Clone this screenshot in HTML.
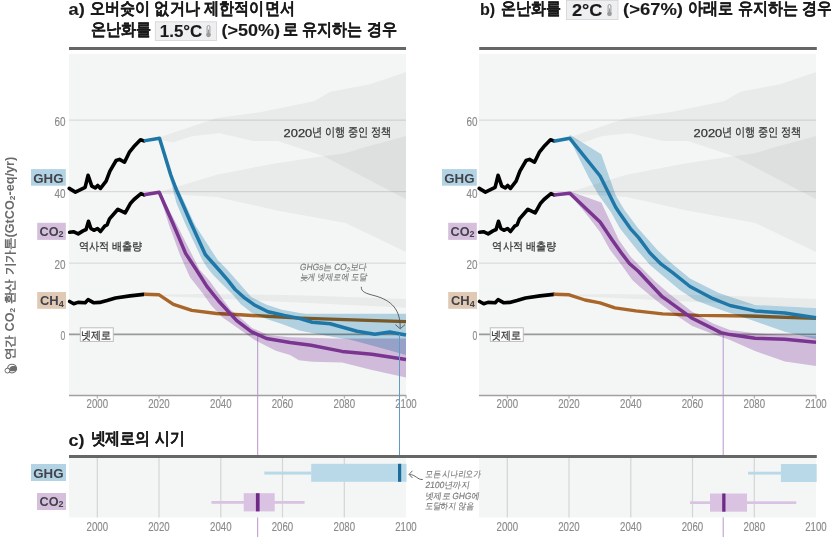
<!DOCTYPE html>
<html><head><meta charset="utf-8"><style>
html,body{margin:0;padding:0;background:#fff;width:831px;height:537px;overflow:hidden}
svg{display:block}
text{font-family:"Liberation Sans",sans-serif}
.title{font-size:16px;font-weight:bold;fill:#1a1a1a;stroke:#1a1a1a;stroke-width:0.12}
.tick{font-size:12px;fill:#8a8a8a;stroke:#8a8a8a;stroke-width:0.15}
.lab{font-size:13.5px;font-weight:bold;fill:#42424a}
.kr{font-size:11px;fill:#333;stroke:#333;stroke-width:0.25}
.kr2{font-size:11.5px;fill:#333;stroke:#333;stroke-width:0.25}
.ann{font-size:9px;fill:#7a7a7a;stroke:#7a7a7a;stroke-width:0.15}
.ylab{font-size:12px;font-weight:bold;fill:#6a6a6a}
</style></head><body>
<svg width="831" height="537" viewBox="0 0 831 537">
<text x="68.6" y="14.8" class="title" textLength="16.2" lengthAdjust="spacingAndGlyphs">a)</text>
<text x="89.8" y="13.7" class="title" textLength="205" lengthAdjust="spacingAndGlyphs"><tspan font-size="16.8">오버슛이 없거나 제한적이면서</tspan></text>
<text x="90.5" y="35.1" class="title" textLength="60.5" lengthAdjust="spacingAndGlyphs"><tspan font-size="16.8">온난화를</tspan></text>
<rect x="155.3" y="21.8" width="61.3" height="18.6" fill="#eeeff0" stroke="#d3d3d3" stroke-width="0.8"/>
<text x="159.8" y="37.2" class="title" textLength="42.5" lengthAdjust="spacingAndGlyphs">1.5°C</text>
<g transform="translate(205.5,25.5)"><rect x="1.6" y="0" width="2.8" height="8.2" rx="1.4" fill="none" stroke="#9a9a9a" stroke-width="1"/><rect x="2.5" y="4" width="1" height="5" fill="#9a9a9a"/><circle cx="3" cy="9.3" r="2.4" fill="#9a9a9a"/></g>
<text x="221.6" y="36.2" class="title" textLength="58.5" lengthAdjust="spacingAndGlyphs">(&gt;50%)</text>
<text x="282.8" y="35.1" class="title" textLength="114" lengthAdjust="spacingAndGlyphs"><tspan font-size="16.8">로 유지하는 경우</tspan></text>
<text x="480" y="14.8" class="title" textLength="15.2" lengthAdjust="spacingAndGlyphs">b)</text>
<text x="501.4" y="13.7" class="title" textLength="60" lengthAdjust="spacingAndGlyphs"><tspan font-size="16.8">온난화를</tspan></text>
<rect x="566.5" y="0.5" width="51.5" height="19" fill="#eeeff0" stroke="#d3d3d3" stroke-width="0.8"/>
<text x="572" y="15.6" class="title" textLength="30.5" lengthAdjust="spacingAndGlyphs">2°C</text>
<g transform="translate(606.5,4.5)"><rect x="1.6" y="0" width="2.8" height="8.2" rx="1.4" fill="none" stroke="#9a9a9a" stroke-width="1"/><rect x="2.5" y="4" width="1" height="5" fill="#9a9a9a"/><circle cx="3" cy="9.3" r="2.4" fill="#9a9a9a"/></g>
<text x="623" y="14.8" class="title" textLength="60" lengthAdjust="spacingAndGlyphs">(&gt;67%)</text>
<text x="688.3" y="13.7" class="title" textLength="144" lengthAdjust="spacingAndGlyphs"><tspan font-size="16.8">아래로 유지하는 경우</tspan></text>
<rect x="69" y="47" width="337" height="3" fill="#666"/>
<rect x="479.2" y="47" width="337.6" height="3" fill="#666"/>
<rect x="69" y="54" width="337" height="341.3" fill="#f4f6f6"/>
<line x1="69" y1="120.2" x2="406" y2="120.2" stroke="#dadada" stroke-width="1.2"/>
<line x1="69" y1="191.6" x2="406" y2="191.6" stroke="#dadada" stroke-width="1.2"/>
<line x1="69" y1="263.1" x2="406" y2="263.1" stroke="#dadada" stroke-width="1.2"/>
<g transform="translate(0,0)" fill="#000" fill-opacity="0.045"><polygon points="158.0,137.8 185.7,128.6 216.4,117.9 262.4,111.8 314.6,101.0 330.0,91.8 369.8,84.2 406.0,71.9 406.0,199.2 323.8,156.3 277.7,140.9 253.2,140.9 219.4,133.2 191.8,136.3 173.4,142.5 158.0,139.4"/><polygon points="161.0,191.5 216.4,174.7 271.6,163.9 320.7,156.5 344.9,153.3 363.6,147.5 406.0,136.0 406.0,252.1 345.2,223.0 277.7,210.7 216.4,196.9 161.0,193.8"/><polygon points="159.0,294.5 200.0,293.9 301.0,295.2 406.0,299.0 406.0,307.8 275.8,301.5 200.0,297.7 159.0,296.0"/></g>
<line x1="69" y1="334.4" x2="406" y2="334.4" stroke="#9a9a9a" stroke-width="1.6"/>
<line x1="69" y1="395.5" x2="406" y2="395.5" stroke="#a0a0a0" stroke-width="1.3"/>
<line x1="97.3" y1="395" x2="97.3" y2="398.5" stroke="#a0a0a0" stroke-width="1"/>
<text x="97.3" y="408.4" class="tick" text-anchor="middle" textLength="21.5" lengthAdjust="spacingAndGlyphs">2000</text>
<line x1="159.0" y1="395" x2="159.0" y2="398.5" stroke="#a0a0a0" stroke-width="1"/>
<text x="159.0" y="408.4" class="tick" text-anchor="middle" textLength="21.5" lengthAdjust="spacingAndGlyphs">2020</text>
<line x1="220.8" y1="395" x2="220.8" y2="398.5" stroke="#a0a0a0" stroke-width="1"/>
<text x="220.8" y="408.4" class="tick" text-anchor="middle" textLength="21.5" lengthAdjust="spacingAndGlyphs">2040</text>
<line x1="282.5" y1="395" x2="282.5" y2="398.5" stroke="#a0a0a0" stroke-width="1"/>
<text x="282.5" y="408.4" class="tick" text-anchor="middle" textLength="21.5" lengthAdjust="spacingAndGlyphs">2060</text>
<line x1="344.3" y1="395" x2="344.3" y2="398.5" stroke="#a0a0a0" stroke-width="1"/>
<text x="344.3" y="408.4" class="tick" text-anchor="middle" textLength="21.5" lengthAdjust="spacingAndGlyphs">2080</text>
<line x1="406.0" y1="395" x2="406.0" y2="398.5" stroke="#a0a0a0" stroke-width="1"/>
<text x="406.0" y="408.4" class="tick" text-anchor="middle" textLength="21.5" lengthAdjust="spacingAndGlyphs">2100</text>
<text x="65.4" y="126.1" class="tick" text-anchor="end" textLength="11" lengthAdjust="spacingAndGlyphs">60</text>
<text x="65.4" y="197.5" class="tick" text-anchor="end" textLength="11" lengthAdjust="spacingAndGlyphs">40</text>
<text x="65.4" y="269.0" class="tick" text-anchor="end" textLength="11" lengthAdjust="spacingAndGlyphs">20</text>
<text x="65.4" y="340.4" class="tick" text-anchor="end" textLength="4.8" lengthAdjust="spacingAndGlyphs">0</text>
<line x1="257.7" y1="334.4" x2="257.7" y2="537" stroke="#b995cc" stroke-width="1"/>
<g fill="none" stroke="#000" stroke-width="3.6" stroke-linejoin="round" stroke-linecap="round"><polyline points="69.2,188.4 75.4,192.1 85.1,187.4 88.1,175.3 91.8,186.2 95.2,187.9 97.7,185.4 100.5,188.4 106.1,181.2 109.9,171.1 116.1,160.5 119.5,159.4 124.5,162.2 129.6,151.8 133.7,146.8 140.5,139.8 143.8,140.9"/><polyline points="69.6,232.3 73.4,231.7 78.2,233.9 83.0,230.9 86.1,229.5 88.5,221.3 90.9,228.5 93.9,230.3 97.5,228.5 100.5,231.5 104.7,226.1 107.1,224.9 109.5,218.9 117.9,209.3 125.2,212.9 130.6,203.2 134.0,199.5 141.0,193.6 144.0,194.8"/><polyline points="69.6,301.5 73.7,303.8 78.0,302.4 85.2,302.8 88.1,299.6 93.9,302.8 99.7,302.4 107.0,300.5 115.5,298.0 130.0,295.9 143.7,294.4"/></g>
<polyline points="144.0,294.3 159.2,294.8 173.4,304.3 191.8,310.4 216.4,313.5 240.0,314.8 300.0,318.1 406.0,321.6" fill="none" stroke="#a8662a" stroke-width="3.4" stroke-linejoin="round"/>
<g style="mix-blend-mode:multiply"><polygon points="159.5,136.8 165.0,158.0 172.0,177.0 179.2,190.8 195.1,225.0 217.7,260.0 226.1,268.4 237.3,281.0 251.2,297.1 266.1,304.6 281.9,309.7 300.0,313.0 306.0,313.7 406.0,313.7 406.0,355.1 371.9,345.4 349.6,339.5 334.7,337.2 300.0,330.7 281.9,324.1 268.0,319.5 252.1,313.0 240.5,304.0 233.3,295.2 213.1,275.0 207.5,268.0 202.3,260.0 185.8,225.0 176.4,203.0 171.8,185.0 165.0,162.0 159.5,139.8" fill="#b9d9e9" style="mix-blend-mode:multiply"/><polygon points="159.2,190.8 177.0,225.0 199.5,269.5 209.3,280.5 221.4,297.3 230.8,310.0 240.0,317.6 252.1,327.9 268.0,335.0 290.0,337.2 334.7,338.4 406.0,338.4 406.0,377.4 371.9,370.0 342.1,362.5 312.3,361.8 298.9,360.3 290.0,355.1 275.8,350.8 254.6,340.0 244.1,332.5 222.0,317.0 210.9,305.0 203.0,293.8 190.0,277.2 180.0,255.0 169.0,225.0 159.2,193.8" fill="#dac3e2" style="mix-blend-mode:multiply"/></g>
<polyline points="143.8,140.9 159.5,138.2 170.8,175.0 176.4,189.9 183.0,204.8 190.9,223.0 205.3,254.5 218.6,269.5 228.0,280.3 235.4,289.8 243.8,297.3 254.0,304.7 268.0,311.7 284.3,315.4 299.2,318.4 312.3,322.3 330.2,323.8 357.0,331.3 374.9,334.2 389.8,332.0 406.0,335.0" fill="none" stroke="#1f77a8" stroke-width="3.5" stroke-linejoin="round"/>
<polyline points="144.0,194.8 159.2,192.2 173.6,225.0 185.7,253.6 196.5,270.0 206.9,286.4 218.6,301.0 236.7,320.6 251.6,331.8 266.5,338.5 290.0,342.4 311.0,345.2 342.1,351.4 371.9,354.3 406.0,359.6" fill="none" stroke="#7a3590" stroke-width="3.5" stroke-linejoin="round"/>
<rect x="31" y="169.1" width="34.8" height="16.6" fill="#b2d3e3"/>
<text x="33.2" y="182.5" class="lab" textLength="30.3" lengthAdjust="spacingAndGlyphs">GHG</text>
<rect x="37.2" y="222.8" width="28.6" height="17.1" fill="#d6bfdd"/>
<text x="39.5" y="235.6" class="lab" textLength="24" lengthAdjust="spacingAndGlyphs">CO<tspan font-size="9.5" dy="1.8">2</tspan></text>
<rect x="37.2" y="292" width="28.8" height="16.8" fill="#e0cab5"/>
<text x="40" y="305.1" class="lab" textLength="23.8" lengthAdjust="spacingAndGlyphs">CH<tspan font-size="9.5" dy="1.8">4</tspan></text>
<rect x="80.3" y="327.8" width="33" height="13.6" fill="#fff" stroke="#bdbdbd" stroke-width="1"/>
<text x="81.4" y="339.4" class="kr" textLength="30" lengthAdjust="spacingAndGlyphs">넷제로</text>
<text x="78.6" y="250.3" class="kr" textLength="63.5" lengthAdjust="spacingAndGlyphs">역사적 배출량</text>
<text x="283.6" y="136.9" class="kr2" textLength="28.6" lengthAdjust="spacingAndGlyphs">2020</text>
<text x="312" y="136.4" class="kr2" textLength="79.3" lengthAdjust="spacingAndGlyphs">년 이행 중인 정책</text>
<g transform="translate(299.6,270.2) skewX(-9)"><text x="0" y="0" class="ann" textLength="67" lengthAdjust="spacingAndGlyphs">GHGs는 CO<tspan font-size="6.5" dy="1.5">2</tspan><tspan dy="-1.5">보다</tspan></text></g><g transform="translate(299.6,280.3) skewX(-9)"><text x="0" y="0" class="ann" textLength="67" lengthAdjust="spacingAndGlyphs">늦게 넷제로에 도달</text></g>
<path d="M361.3,286.8 C361,292 366,293.5 375,295.8 C392,300.5 400.5,310 400.2,328.2" fill="none" stroke="#555" stroke-width="0.9"/>
<path d="M395.4,324.6 L400.2,328.8 L405,324.6" fill="none" stroke="#555" stroke-width="0.9"/>
<rect x="479" y="54" width="337" height="341.3" fill="#f4f6f6"/>
<line x1="479" y1="120.2" x2="816" y2="120.2" stroke="#dadada" stroke-width="1.2"/>
<line x1="479" y1="191.6" x2="816" y2="191.6" stroke="#dadada" stroke-width="1.2"/>
<line x1="479" y1="263.1" x2="816" y2="263.1" stroke="#dadada" stroke-width="1.2"/>
<g transform="translate(410,0)" fill="#000" fill-opacity="0.045"><polygon points="158.0,137.8 185.7,128.6 216.4,117.9 262.4,111.8 314.6,101.0 330.0,91.8 369.8,84.2 406.0,71.9 406.0,199.2 323.8,156.3 277.7,140.9 253.2,140.9 219.4,133.2 191.8,136.3 173.4,142.5 158.0,139.4"/><polygon points="161.0,191.5 216.4,174.7 271.6,163.9 320.7,156.5 344.9,153.3 363.6,147.5 406.0,136.0 406.0,252.1 345.2,223.0 277.7,210.7 216.4,196.9 161.0,193.8"/><polygon points="159.0,294.5 200.0,293.9 301.0,295.2 406.0,299.0 406.0,307.8 275.8,301.5 200.0,297.7 159.0,296.0"/></g>
<line x1="479" y1="334.4" x2="816" y2="334.4" stroke="#9a9a9a" stroke-width="1.6"/>
<line x1="479" y1="395.5" x2="816" y2="395.5" stroke="#a0a0a0" stroke-width="1.3"/>
<line x1="507.3" y1="395" x2="507.3" y2="398.5" stroke="#a0a0a0" stroke-width="1"/>
<text x="507.3" y="408.4" class="tick" text-anchor="middle" textLength="21.5" lengthAdjust="spacingAndGlyphs">2000</text>
<line x1="569.0" y1="395" x2="569.0" y2="398.5" stroke="#a0a0a0" stroke-width="1"/>
<text x="569.0" y="408.4" class="tick" text-anchor="middle" textLength="21.5" lengthAdjust="spacingAndGlyphs">2020</text>
<line x1="630.8" y1="395" x2="630.8" y2="398.5" stroke="#a0a0a0" stroke-width="1"/>
<text x="630.8" y="408.4" class="tick" text-anchor="middle" textLength="21.5" lengthAdjust="spacingAndGlyphs">2040</text>
<line x1="692.5" y1="395" x2="692.5" y2="398.5" stroke="#a0a0a0" stroke-width="1"/>
<text x="692.5" y="408.4" class="tick" text-anchor="middle" textLength="21.5" lengthAdjust="spacingAndGlyphs">2060</text>
<line x1="754.3" y1="395" x2="754.3" y2="398.5" stroke="#a0a0a0" stroke-width="1"/>
<text x="754.3" y="408.4" class="tick" text-anchor="middle" textLength="21.5" lengthAdjust="spacingAndGlyphs">2080</text>
<line x1="816.0" y1="395" x2="816.0" y2="398.5" stroke="#a0a0a0" stroke-width="1"/>
<text x="816.0" y="408.4" class="tick" text-anchor="middle" textLength="21.5" lengthAdjust="spacingAndGlyphs">2100</text>
<text x="477.4" y="126.1" class="tick" text-anchor="end" textLength="11" lengthAdjust="spacingAndGlyphs">60</text>
<text x="477.4" y="197.5" class="tick" text-anchor="end" textLength="11" lengthAdjust="spacingAndGlyphs">40</text>
<text x="477.4" y="269.0" class="tick" text-anchor="end" textLength="11" lengthAdjust="spacingAndGlyphs">20</text>
<text x="477.4" y="340.4" class="tick" text-anchor="end" textLength="4.8" lengthAdjust="spacingAndGlyphs">0</text>
<line x1="723.2" y1="334.4" x2="723.2" y2="537" stroke="#b995cc" stroke-width="1"/>
<g fill="none" stroke="#000" stroke-width="3.6" stroke-linejoin="round" stroke-linecap="round"><polyline points="479.2,188.4 485.4,192.1 495.1,187.4 498.1,175.3 501.8,186.2 505.2,187.9 507.7,185.4 510.5,188.4 516.1,181.2 519.9,171.1 526.1,160.5 529.5,159.4 534.5,162.2 539.6,151.8 543.7,146.8 550.5,139.8 553.8,140.9"/><polyline points="479.6,232.3 483.4,231.7 488.2,233.9 493.0,230.9 496.1,229.5 498.5,221.3 500.9,228.5 503.9,230.3 507.5,228.5 510.5,231.5 514.7,226.1 517.1,224.9 519.5,218.9 527.9,209.3 535.2,212.9 540.6,203.2 544.0,199.5 551.0,193.6 554.0,194.8"/><polyline points="479.6,301.5 483.7,303.8 488.0,302.4 495.2,302.8 498.1,299.6 503.9,302.8 509.7,302.4 517.0,300.5 525.5,298.0 540.0,295.9 553.7,294.4"/></g>
<polyline points="553.6,294.3 569.2,294.8 585.0,300.0 600.0,302.9 614.9,307.9 635.8,310.9 662.6,313.9 698.4,315.4 749.0,316.0 816.0,318.4" fill="none" stroke="#a8662a" stroke-width="3.4" stroke-linejoin="round"/>
<g style="mix-blend-mode:multiply"><polygon points="569.8,134.8 601.3,154.2 615.8,195.4 624.5,210.0 637.9,227.9 657.4,250.0 670.9,262.7 690.0,278.5 718.3,292.8 730.0,296.7 755.0,305.0 816.0,308.0 816.0,339.2 784.8,331.8 755.0,321.3 730.0,313.0 718.3,309.1 694.8,300.0 679.8,290.0 661.2,274.6 650.0,264.9 637.1,250.0 620.0,228.6 611.0,212.3 598.9,195.4 589.2,178.4 577.1,154.2 569.8,139.2" fill="#b9d9e9" style="mix-blend-mode:multiply"/><polygon points="569.8,191.3 601.3,202.6 618.9,240.0 630.9,257.1 638.3,264.6 654.7,281.0 669.0,293.5 692.2,311.7 713.0,323.5 730.0,330.0 755.0,333.3 816.0,336.2 816.0,366.0 784.8,361.6 755.0,351.1 730.0,340.0 713.0,333.9 692.2,326.1 672.6,313.0 655.7,300.0 640.0,287.0 632.3,280.0 621.2,264.6 610.0,249.7 600.0,231.9 586.8,214.7 569.8,194.4" fill="#dac3e2" style="mix-blend-mode:multiply"/></g>
<polyline points="553.6,141.3 569.8,138.3 600.1,176.0 615.8,207.5 620.0,213.7 630.4,228.6 638.6,237.6 650.0,253.0 661.2,264.2 672.3,272.3 690.0,286.5 713.0,298.7 730.0,305.5 755.0,310.9 784.8,313.0 816.0,317.8" fill="none" stroke="#1f77a8" stroke-width="3.5" stroke-linejoin="round"/>
<polyline points="553.6,195.0 569.8,193.2 600.1,222.0 612.2,240.0 621.2,252.7 629.4,263.5 638.3,271.3 645.0,278.5 662.2,296.7 692.2,318.3 720.9,332.6 730.0,334.6 755.0,338.3 784.8,339.2 816.0,342.2" fill="none" stroke="#7a3590" stroke-width="3.5" stroke-linejoin="round"/>
<rect x="442" y="169.1" width="34.8" height="16.6" fill="#b2d3e3"/>
<text x="444.2" y="182.5" class="lab" textLength="30.3" lengthAdjust="spacingAndGlyphs">GHG</text>
<rect x="448.2" y="222.8" width="28.6" height="17.1" fill="#d6bfdd"/>
<text x="450.5" y="235.6" class="lab" textLength="24" lengthAdjust="spacingAndGlyphs">CO<tspan font-size="9.5" dy="1.8">2</tspan></text>
<rect x="448.2" y="292" width="28.8" height="16.8" fill="#e0cab5"/>
<text x="451" y="305.1" class="lab" textLength="23.8" lengthAdjust="spacingAndGlyphs">CH<tspan font-size="9.5" dy="1.8">4</tspan></text>
<rect x="490.3" y="327.8" width="33" height="13.6" fill="#fff" stroke="#bdbdbd" stroke-width="1"/>
<text x="491.4" y="339.4" class="kr" textLength="30" lengthAdjust="spacingAndGlyphs">넷제로</text>
<text x="492.40000000000003" y="250.3" class="kr" textLength="63.5" lengthAdjust="spacingAndGlyphs">역사적 배출량</text>
<text x="693.6" y="136.9" class="kr2" textLength="28.6" lengthAdjust="spacingAndGlyphs">2020</text>
<text x="722" y="136.4" class="kr2" textLength="79.3" lengthAdjust="spacingAndGlyphs">년 이행 중인 정책</text>

<line x1="399.5" y1="334.4" x2="399.5" y2="464" stroke="#5e9cc6" stroke-width="1"/>
<text x="68.6" y="445.5" class="title" textLength="16" lengthAdjust="spacingAndGlyphs">c)</text><text x="90.5" y="444.4" class="title" textLength="94" lengthAdjust="spacingAndGlyphs"><tspan font-size="16.8">넷제로의 시기</tspan></text>
<rect x="69" y="455" width="747.8" height="3" fill="#666"/>
<rect x="69" y="458" width="337" height="59.5" fill="#f4f6f6"/>
<line x1="97.3" y1="458" x2="97.3" y2="517.5" stroke="#d5d5d5" stroke-width="1.2"/>
<line x1="159.0" y1="458" x2="159.0" y2="517.5" stroke="#d5d5d5" stroke-width="1.2"/>
<line x1="220.8" y1="458" x2="220.8" y2="517.5" stroke="#d5d5d5" stroke-width="1.2"/>
<line x1="282.5" y1="458" x2="282.5" y2="517.5" stroke="#d5d5d5" stroke-width="1.2"/>
<line x1="344.3" y1="458" x2="344.3" y2="517.5" stroke="#d5d5d5" stroke-width="1.2"/>
<text x="97.3" y="531.2" class="tick" text-anchor="middle" textLength="21.5" lengthAdjust="spacingAndGlyphs">2000</text>
<text x="159.0" y="531.2" class="tick" text-anchor="middle" textLength="21.5" lengthAdjust="spacingAndGlyphs">2020</text>
<text x="220.8" y="531.2" class="tick" text-anchor="middle" textLength="21.5" lengthAdjust="spacingAndGlyphs">2040</text>
<text x="282.5" y="531.2" class="tick" text-anchor="middle" textLength="21.5" lengthAdjust="spacingAndGlyphs">2060</text>
<text x="344.3" y="531.2" class="tick" text-anchor="middle" textLength="21.5" lengthAdjust="spacingAndGlyphs">2080</text>
<text x="406.0" y="531.2" class="tick" text-anchor="middle" textLength="21.5" lengthAdjust="spacingAndGlyphs">2100</text>
<rect x="31" y="464" width="35" height="17" fill="#b2d3e3"/>
<text x="33.2" y="477.9" class="lab" textLength="30.3" lengthAdjust="spacingAndGlyphs">GHG</text>
<rect x="37" y="493" width="29" height="17" fill="#d6bfdd"/>
<text x="39.5" y="505.5" class="lab" textLength="24" lengthAdjust="spacingAndGlyphs">CO<tspan font-size="9.5" dy="1.8">2</tspan></text>
<rect x="479" y="458" width="337" height="59.5" fill="#f4f6f6"/>
<line x1="507.3" y1="458" x2="507.3" y2="517.5" stroke="#d5d5d5" stroke-width="1.2"/>
<line x1="569.0" y1="458" x2="569.0" y2="517.5" stroke="#d5d5d5" stroke-width="1.2"/>
<line x1="630.8" y1="458" x2="630.8" y2="517.5" stroke="#d5d5d5" stroke-width="1.2"/>
<line x1="692.5" y1="458" x2="692.5" y2="517.5" stroke="#d5d5d5" stroke-width="1.2"/>
<line x1="754.3" y1="458" x2="754.3" y2="517.5" stroke="#d5d5d5" stroke-width="1.2"/>
<text x="507.3" y="531.2" class="tick" text-anchor="middle" textLength="21.5" lengthAdjust="spacingAndGlyphs">2000</text>
<text x="569.0" y="531.2" class="tick" text-anchor="middle" textLength="21.5" lengthAdjust="spacingAndGlyphs">2020</text>
<text x="630.8" y="531.2" class="tick" text-anchor="middle" textLength="21.5" lengthAdjust="spacingAndGlyphs">2040</text>
<text x="692.5" y="531.2" class="tick" text-anchor="middle" textLength="21.5" lengthAdjust="spacingAndGlyphs">2060</text>
<text x="754.3" y="531.2" class="tick" text-anchor="middle" textLength="21.5" lengthAdjust="spacingAndGlyphs">2080</text>
<text x="816.0" y="531.2" class="tick" text-anchor="middle" textLength="21.5" lengthAdjust="spacingAndGlyphs">2100</text>
<rect x="264.3" y="471.6" width="47" height="3" fill="#b9d9e9"/>
<rect x="311.2" y="463.8" width="95.3" height="18" fill="#b9d9e9"/>
<rect x="398" y="463.8" width="3.2" height="18" fill="#1a6a9a"/>
<rect x="211.4" y="501" width="93.2" height="2.8" fill="#dac3e2"/>
<rect x="243.7" y="493.2" width="31" height="18.2" fill="#dac3e2"/>
<rect x="255.9" y="493.2" width="3.7" height="18.2" fill="#6f2a85"/>
<rect x="748.1" y="471.7" width="33" height="2.9" fill="#b9d9e9"/>
<rect x="780.9" y="464" width="35.8" height="18" fill="#b9d9e9"/>
<rect x="690" y="501.3" width="106.3" height="2.7" fill="#dac3e2"/>
<rect x="710" y="493.5" width="37" height="18.2" fill="#dac3e2"/>
<rect x="722.2" y="493.5" width="3.3" height="18.2" fill="#6f2a85"/>
<g transform="translate(425,477.2) skewX(-9)"><text x="0" y="0" class="ann" textLength="55.5" lengthAdjust="spacingAndGlyphs">모든 시나리오가</text></g>
<g transform="translate(425,487.9) skewX(-9)"><text x="0" y="0" class="ann" textLength="44.5" lengthAdjust="spacingAndGlyphs">2100년까지</text></g>
<g transform="translate(425,498.6) skewX(-9)"><text x="0" y="0" class="ann" textLength="54.3" lengthAdjust="spacingAndGlyphs">넷제로 GHG에</text></g>
<g transform="translate(425,509.3) skewX(-9)"><text x="0" y="0" class="ann" textLength="48.3" lengthAdjust="spacingAndGlyphs">도달하지 않음</text></g>
<path d="M422.8,479.5 C417.5,480 415.5,474.5 409.5,474.5" fill="none" stroke="#555" stroke-width="0.9"/>
<path d="M412.5,470.8 L409,474.4 L412.5,478" fill="none" stroke="#555" stroke-width="0.9"/>
<text transform="translate(13.7,360.3) rotate(-90)" class="ylab" textLength="203.5" lengthAdjust="spacingAndGlyphs">연간 CO<tspan font-size="8" dy="1.5">2</tspan><tspan dy="-1.5"> 환산 기가톤(GtCO</tspan><tspan font-size="8" dy="1.5">2</tspan><tspan dy="-1.5">-eq/yr)</tspan></text>
<g transform="translate(12,368.6)"><circle cx="0" cy="0" r="4.4" fill="#fff" stroke="#6e6e6e" stroke-width="1.1"/><path d="M-3.2,2.6 A4.4,4.4 0 0 1 1.5,-2.5 A2.6,2.6 0 0 1 3.2,2.6 Z" fill="#6e6e6e"/><circle cx="-4.6" cy="2" r="2.4" fill="#fff" stroke="#6e6e6e" stroke-width="1"/></g>
</svg>
</body></html>
